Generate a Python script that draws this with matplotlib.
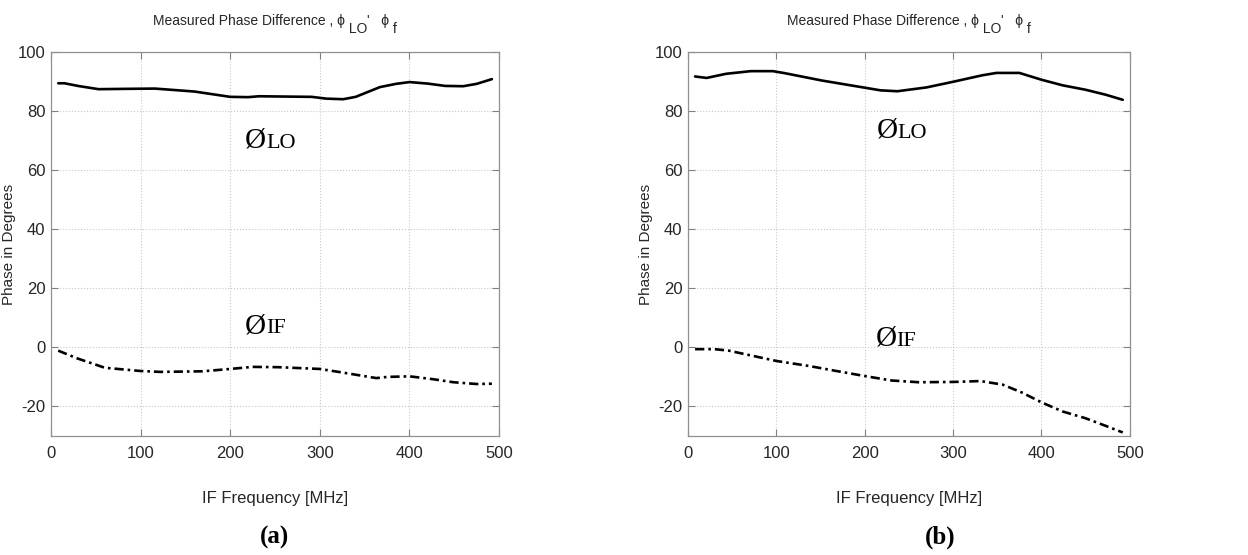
import matplotlib
matplotlib.use("Agg")
import matplotlib.pyplot as plt

# ---- data (IF frequency in MHz, phase in degrees) ----
lo_a_freq = [8, 15, 30, 53, 81, 116, 160, 200, 220, 232, 260, 291, 307, 326, 340,
             367, 385, 400, 420, 440, 460, 475, 492]
lo_a_phase = [89.4, 89.4, 88.5, 87.4, 87.5, 87.6, 86.6, 84.8, 84.7, 85.0, 84.9, 84.8,
              84.2, 84.0, 84.8, 88.1, 89.2, 89.8, 89.3, 88.5, 88.4, 89.2, 90.8]

if_a_freq = [8, 29, 60, 100, 122, 169, 200, 225, 253, 300, 325, 363, 375, 400, 427,
             449, 475, 492]
if_a_phase = [-1.1, -3.7, -6.9, -8.0, -8.3, -8.1, -7.3, -6.6, -6.7, -7.3, -8.5, -10.4,
              -10.0, -9.8, -10.8, -11.8, -12.4, -12.3]

lo_b_freq = [8, 21, 43, 71, 96, 108, 152, 200, 218, 237, 270, 300, 333, 349, 375,
             400, 424, 450, 473, 492]
lo_b_phase = [91.7, 91.2, 92.6, 93.5, 93.5, 92.9, 90.3, 87.9, 87.0, 86.7, 88.0, 89.9,
              92.1, 92.9, 92.9, 90.6, 88.7, 87.2, 85.5, 83.8]

if_b_freq = [8, 30, 46, 100, 137, 168, 200, 230, 261, 300, 331, 356, 378, 400, 424,
             450, 473, 492]
if_b_phase = [-0.6, -0.6, -1.1, -4.6, -6.3, -8.0, -9.7, -11.2, -11.8, -11.7, -11.4,
              -12.6, -15.3, -18.6, -21.7, -24.0, -26.6, -28.8]

x_ticks = [0, 100, 200, 300, 400, 500]
y_ticks = [-20, 0, 20, 40, 60, 80, 100]
panel_tags = ["(a)", "(b)"]
title_parts = [("Measured Phase Difference , \u03d5", 0), (" LO", -8),
               ("'   \u03d5", 0), (" f", -8)]

SANS = ["Liberation Sans", "DejaVu Sans"]
SERIF = ["Liberation Serif", "DejaVu Serif"]
INK = "#262626"

plt.rcParams["axes.unicode_minus"] = False

fig = plt.figure(figsize=(12.48, 5.55), dpi=100)
ax_a = fig.add_axes([0.0409, 0.2144, 0.359, 0.692])
ax_b = fig.add_axes([0.5513, 0.2144, 0.354, 0.692])
renderer = fig.canvas.get_renderer()


def chained_title(ax, parts, base=27):
    """MATLAB-like title: full-size subscripts, laid out piece by piece."""
    texts, x = [], 0.0
    for s, dy in parts:
        t = ax.annotate(s, xy=(0.5, 1.0), xycoords="axes fraction",
                        xytext=(x, base + dy), textcoords="offset pixels",
                        family=SANS, fontsize=10, color=INK,
                        ha="left", va="baseline")
        x += t.get_window_extent(renderer).width
        texts.append(t)
    for t in texts:  # centre the whole row over the axes
        ox, oy = t.xyann
        t.xyann = (ox - x / 2, oy)


panels = [
    (ax_a, lo_a_freq, lo_a_phase, if_a_freq, if_a_phase, (240, 67.5), (240, 4.7)),
    (ax_b, lo_b_freq, lo_b_phase, if_b_freq, if_b_phase, (237, 70.9), (236, 0.5)),
]

for ax, lf, lp, f_if, p_if, lo_pos, if_pos in panels:
    ax.plot(lf, lp, color="black", lw=1.9, solid_capstyle="round")
    ax.plot(f_if, p_if, color="black", lw=1.9, dashes=(3.5, 1.5, 1, 1.5))

    ax.set_xlim(0, 500)
    ax.set_ylim(-30, 100)
    ax.set_xticks(x_ticks)
    ax.set_yticks(y_ticks)
    ax.grid(True, ls=":", color="#c8c8c8", lw=0.8)
    ax.tick_params(direction="in", length=5, width=0.8, color="#808080",
                   top=True, right=True, labelsize=12, pad=4, labelcolor=INK)
    ax.tick_params(axis="x", pad=7)
    for lab in ax.get_xticklabels() + ax.get_yticklabels():
        lab.set_family(SANS)
    for sp in ax.spines.values():
        sp.set_color("#909090")
        sp.set_linewidth(0.9)

    ax.set_xlabel("IF Frequency [MHz]", family=SANS, fontsize=12,
                  color=INK, labelpad=22)
    ax.set_ylabel("Phase in Degrees", family=SANS, fontsize=11, color=INK)
    ax.yaxis.set_label_coords(-0.079, 0.5)
    chained_title(ax, title_parts)

    # curve labels: big slashed O followed by the tag
    ax.text(lo_pos[0], lo_pos[1], "\u00d8", family=SERIF, fontsize=21,
            ha="right", va="baseline")
    ax.text(lo_pos[0], lo_pos[1], "LO", family=SERIF, fontsize=16,
            ha="left", va="baseline")
    ax.text(if_pos[0], if_pos[1], "\u00d8", family=SERIF, fontsize=21,
            ha="right", va="baseline")
    ax.text(if_pos[0], if_pos[1], "IF", family=SERIF, fontsize=16,
            ha="left", va="baseline")

fig.text(0.220, 0.032, panel_tags[0], family=SERIF, weight="bold", fontsize=18,
         ha="center", va="center")
fig.text(0.753, 0.032, panel_tags[1], family=SERIF, weight="bold", fontsize=18,
         ha="center", va="center")

fig.savefig("out.png", dpi=100)
